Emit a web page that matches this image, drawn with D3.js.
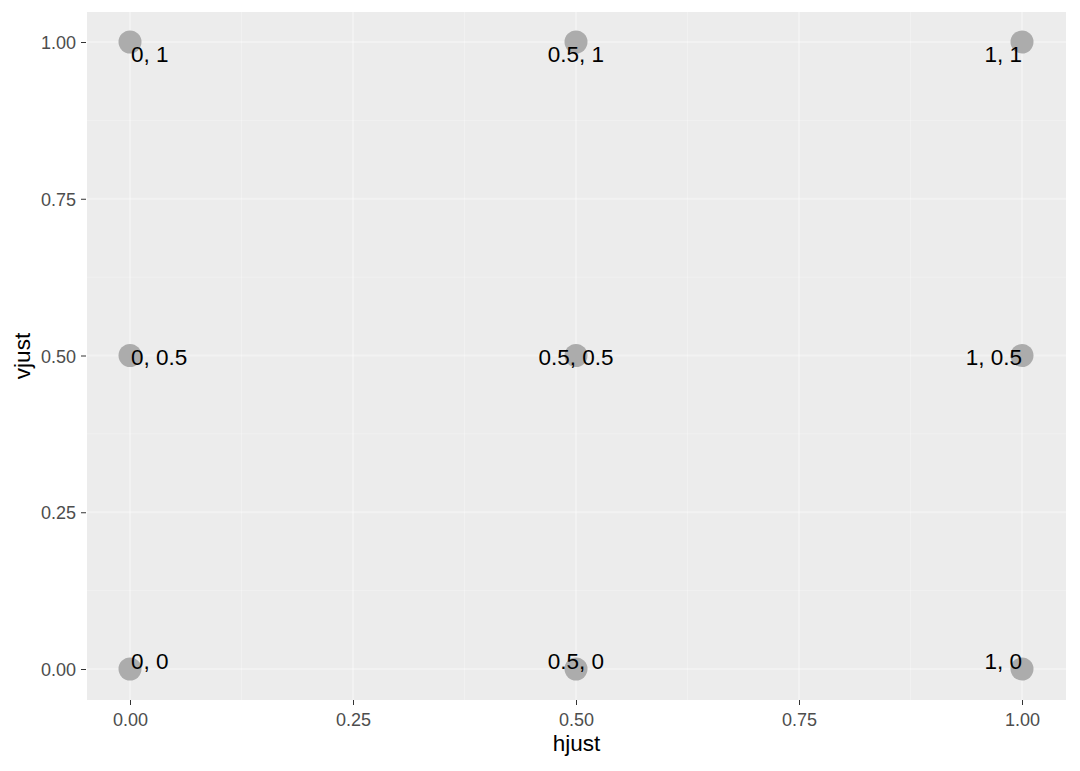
<!DOCTYPE html>
<html>
<head>
<meta charset="utf-8">
<script src="https://cdn.jsdelivr.net/npm/d3@7"></script>
<style>
  html, body { margin: 0; padding: 0; background: #ffffff; }
  svg { display: block; }
  svg text { font-family: "Liberation Sans", Arial, sans-serif; }
</style>
</head>
<body>
<svg id="chart" width="1080" height="771"></svg>
<script>
// ---- data ----
const hjustVals = [0, 0.5, 1];
const vjustVals = [0, 0.5, 1];
const xTicks = [0, 0.25, 0.5, 0.75, 1];
const yTicks = [0, 0.25, 0.5, 0.75, 1];
const xTickLabels = ["0.00", "0.25", "0.50", "0.75", "1.00"];
const yTickLabels = ["0.00", "0.25", "0.50", "0.75", "1.00"];
const minorBreaks = [0.125, 0.375, 0.625, 0.875];
const xTitle = "hjust";
const yTitle = "vjust";

const points = [];
vjustVals.forEach(v => hjustVals.forEach(h => points.push({h, v, label: `${h}, ${v}`})));

// ---- layout ----
const panel = {left: 87, right: 1066, top: 12, bottom: 700};

const x = d3.scaleLinear().domain([0, 1]).range([130, 1022]);
const y = d3.scaleLinear().domain([0, 1]).range([669, 42]);

const svg = d3.select("#chart");

svg.append("rect")
  .attr("x", panel.left).attr("y", panel.top)
  .attr("width", panel.right - panel.left).attr("height", panel.bottom - panel.top)
  .attr("fill", "#ececec");

const grid = svg.append("g");
grid.selectAll("line.vminor").data(minorBreaks).join("line")
  .attr("x1", d => x(d)).attr("x2", d => x(d))
  .attr("y1", panel.top).attr("y2", panel.bottom)
  .attr("stroke", "#ffffff").attr("stroke-opacity", 0.25).attr("stroke-width", 1);
grid.selectAll("line.hminor").data(minorBreaks).join("line")
  .attr("y1", d => y(d)).attr("y2", d => y(d))
  .attr("x1", panel.left).attr("x2", panel.right)
  .attr("stroke", "#ffffff").attr("stroke-opacity", 0.25).attr("stroke-width", 1);
grid.selectAll("line.vmajor").data(xTicks).join("line")
  .attr("x1", d => x(d)).attr("x2", d => x(d))
  .attr("y1", panel.top).attr("y2", panel.bottom)
  .attr("stroke", "#ffffff").attr("stroke-opacity", 0.35).attr("stroke-width", 2);
grid.selectAll("line.hmajor").data(yTicks).join("line")
  .attr("y1", d => y(d)).attr("y2", d => y(d))
  .attr("x1", panel.left).attr("x2", panel.right)
  .attr("stroke", "#ffffff").attr("stroke-opacity", 0.35).attr("stroke-width", 2);

// axes
const xAxis = d3.axisBottom(x).tickValues(xTicks).tickFormat((d, i) => xTickLabels[i]).tickSize(5).tickPadding(3);
const yAxis = d3.axisLeft(y).tickValues(yTicks).tickFormat((d, i) => yTickLabels[i]).tickSize(5).tickPadding(5);

const gx = svg.append("g").attr("transform", `translate(0,${panel.bottom})`).call(xAxis);
const gy = svg.append("g").attr("transform", `translate(${panel.left - 1},0)`).call(yAxis);
[gx, gy].forEach(g => {
  g.attr("font-family", null).attr("font-size", null);
  g.select(".domain").remove();
  g.selectAll(".tick line").attr("stroke", "#333333").attr("stroke-width", 1);
  g.selectAll(".tick text").attr("fill", "#4d4d4d").style("font-size", "18px");
});
gx.selectAll(".tick text").attr("dy", null).attr("y", 726 - panel.bottom);
gy.selectAll(".tick text").attr("dy", null).attr("y", 6.5);

// points
svg.append("g").selectAll("circle").data(points).join("circle")
  .attr("cx", d => x(d.h)).attr("cy", d => y(d.v)).attr("r", 11.5)
  .attr("fill", "#acacac");

// labels with hjust / vjust
const anchors = {0: "start", 0.5: "middle", 1: "end"};
svg.append("g").selectAll("text").data(points).join("text")
  .attr("x", d => x(d.h) + (d.h === 0 ? 1 : 0))
  .attr("y", d => y(d.v) + d.v * 19.5)
  .attr("text-anchor", d => anchors[d.h])
  .attr("fill", "#000000")
  .style("font-size", "22.5px")
  .text(d => d.label);

// axis titles
svg.append("text")
  .attr("x", (panel.left + panel.right) / 2).attr("y", 751)
  .attr("text-anchor", "middle").style("font-size", "22.5px").attr("fill", "#000")
  .text(xTitle);
svg.append("text")
  .attr("transform", `translate(30,${(panel.top + panel.bottom) / 2}) rotate(-90)`)
  .attr("text-anchor", "middle").style("font-size", "22.5px").attr("fill", "#000")
  .text(yTitle);
</script>
</body>
</html>
